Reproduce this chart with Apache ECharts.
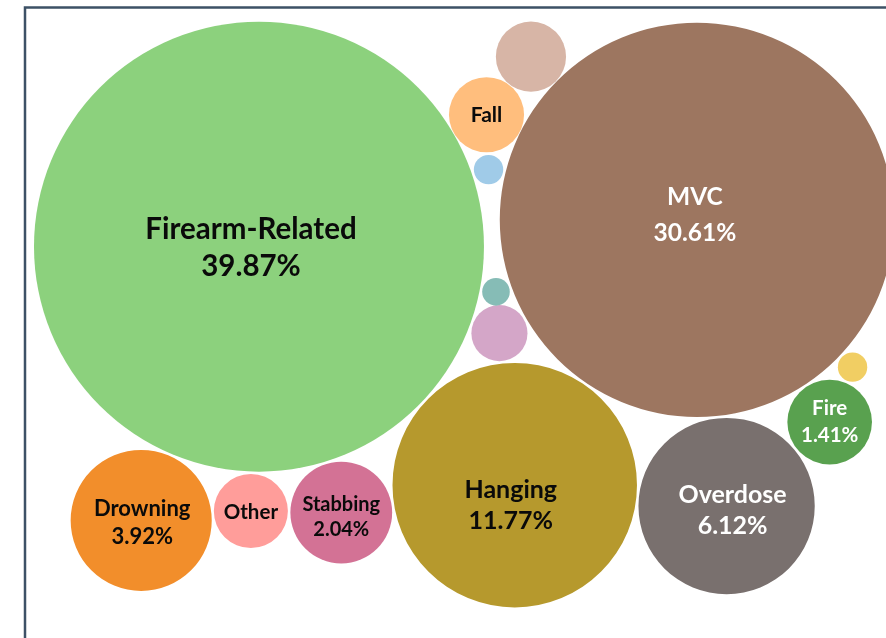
<!DOCTYPE html>
<html>
<head>
<meta charset="utf-8">
<script src="https://cdn.jsdelivr.net/npm/echarts@6/dist/echarts.min.js"></script>
<style>
  html, body { margin: 0; padding: 0; background: #fff; }
  #chart { width: 886px; height: 638px; }
</style>
</head>
<body>
<div id="chart"></div>
<script>
// Share of deaths by cause (%)
const causes = ['Firearm-Related', 'MVC', 'Hanging', 'Overdose', 'Drowning', 'Stabbing', 'Fire',
                'Fall', 'Other', 'Poisoning', 'Suffocation', 'Electrocution', 'Blunt Force', 'Exposure'];
const shares = [39.87, 30.61, 11.77, 6.12, 3.92, 2.04, 1.41,
                1.11, 1.08, 0.97, 0.62, 0.17, 0.15, 0.17];
// 2 = name and share, 1 = name only, 0 = unlabeled
const labelLevel = [2, 2, 2, 2, 2, 2, 2, 1, 1, 0, 0, 0, 0, 0];

// Bubble fills and label styling
const fills = ['#8CD17D', '#9D7660', '#B6992D', '#79706E', '#F28E2B', '#D37295', '#59A14F',
               '#FFBE7D', '#FF9D9A', '#D7B5A6', '#D4A6C8', '#A0CBE8', '#86BCB6', '#F1CE63'];
const textFills = ['#0a0a0a', '#fff', '#0a0a0a', '#fff', '#0a0a0a', '#0a0a0a', '#fff', '#0a0a0a', '#0a0a0a'];
const fontSizes = [29.5, 24.5, 25, 25, 22, 20, 20.5, 21, 20.5];
const lineHeights = [37, 36, 31, 31, 28, 25, 27, 20, 20];
const labelShift = [[-8, 1], [-2, -5], [-4, 20], [6, 4], [1, 2], [0, 4], [0, 0], [0, 0], [0, 1]];

// Packing: bubble radius is sqrt(share); each bubble after the first two rests
// against two already placed bubbles (side: +1 right of A->B, -1 left),
// optionally with its own spacing in pixels.
const PX_PER_UNIT = 35.63;     // size scale: pixels per sqrt-percent
const GAP_PX = 2.5;            // white space kept between neighbours
const secondAngle = 43 * Math.PI / 180;
const packing = [
  // [bubble, anchorA, anchorB, side, gapPx]
  [10, 0, 2, -1],
  [1, 2, 10, 1],
  [3, 1, 2, -1],
  [6, 1, 3, -1],
  [13, 1, 6, -1],
  [12, 0, 1, 1],
  [7, 0, 1, -1, 0.5],
  [9, 7, 1, -1, 0.5],
  [11, 0, 1, -1],
  [5, 0, 2, 1],
  [8, 0, 5, 1],
  [4, 0, 8, 1]
];

const radius = shares.map(v => Math.sqrt(v));
const pos = [];
const gap0 = GAP_PX / PX_PER_UNIT;
pos[0] = { x: 0, y: 0, r: radius[0] };
const d02 = radius[0] + radius[2] + gap0;
pos[2] = { x: Math.cos(secondAngle) * d02, y: Math.sin(secondAngle) * d02, r: radius[2] };

function touchBoth(a, b, r, side, gap) {
  const da = a.r + r + gap, db = b.r + r + gap;
  const dx = b.x - a.x, dy = b.y - a.y, d = Math.hypot(dx, dy);
  const ux = dx / d, uy = dy / d;
  const along = (da * da - db * db + d * d) / (2 * d);
  const h = Math.sqrt(Math.max(0, da * da - along * along));
  return { x: a.x + ux * along - uy * h * side, y: a.y + uy * along + ux * h * side, r: r };
}
packing.forEach(([i, a, b, side, gapPx]) => {
  const g = (gapPx === undefined ? GAP_PX : gapPx) / PX_PER_UNIT;
  pos[i] = touchBoth(pos[a], pos[b], radius[i], side, g);
});

// View window: 1 unit = PX_PER_UNIT pixels, inset from the largest bubble's top-left
const VIEW_W = 886, VIEW_H = 638;
const xMin = pos[0].x - pos[0].r - 34 / PX_PER_UNIT, xMax = xMin + VIEW_W / PX_PER_UNIT;
const yMin = pos[0].y - pos[0].r - 21.7 / PX_PER_UNIT, yMax = yMin + VIEW_H / PX_PER_UNIT;

const bubbles = pos.map((p, i) => [p.x, p.y, p.r, i]);

function labelText(i) {
  if (labelLevel[i] === 2) return causes[i] + '\n' + shares[i].toFixed(2) + '%';
  if (labelLevel[i] === 1) return causes[i];
  return '';
}

const chart = echarts.init(document.getElementById('chart'), null, { renderer: 'canvas' });
chart.setOption({
  animation: false,
  backgroundColor: '#ffffff',
  grid: { left: 0, right: 0, top: 0, bottom: 0 },
  xAxis: { type: 'value', min: xMin, max: xMax, show: false },
  yAxis: { type: 'value', min: yMin, max: yMax, inverse: true, show: false },
  graphic: [{
    type: 'rect',
    shape: { x: 25, y: 7.5, width: 1000, height: 800 },
    style: { fill: 'none', stroke: '#3d5166', lineWidth: 2.5 },
    z: 100
  }],
  series: [{
    type: 'custom',
    clip: false,
    data: bubbles,
    renderItem: function (params, api) {
      const i = api.value(3);
      const c = api.coord([api.value(0), api.value(1)]);
      const rr = api.size([api.value(2), api.value(2)])[0];
      const children = [{
        type: 'circle',
        shape: { cx: c[0], cy: c[1], r: rr },
        style: { fill: fills[i] }
      }];
      const txt = labelText(i);
      if (txt) {
        children.push({
          type: 'text',
          x: c[0] + labelShift[i][0],
          y: c[1] + labelShift[i][1],
          style: {
            text: txt,
            fill: textFills[i],
            fontFamily: 'Lato',
            fontWeight: 'bold',
            fontSize: fontSizes[i],
            lineHeight: lineHeights[i],
            align: 'center',
            verticalAlign: 'middle'
          }
        });
      }
      return { type: 'group', children: children };
    }
  }]
});
</script>
</body>
</html>
